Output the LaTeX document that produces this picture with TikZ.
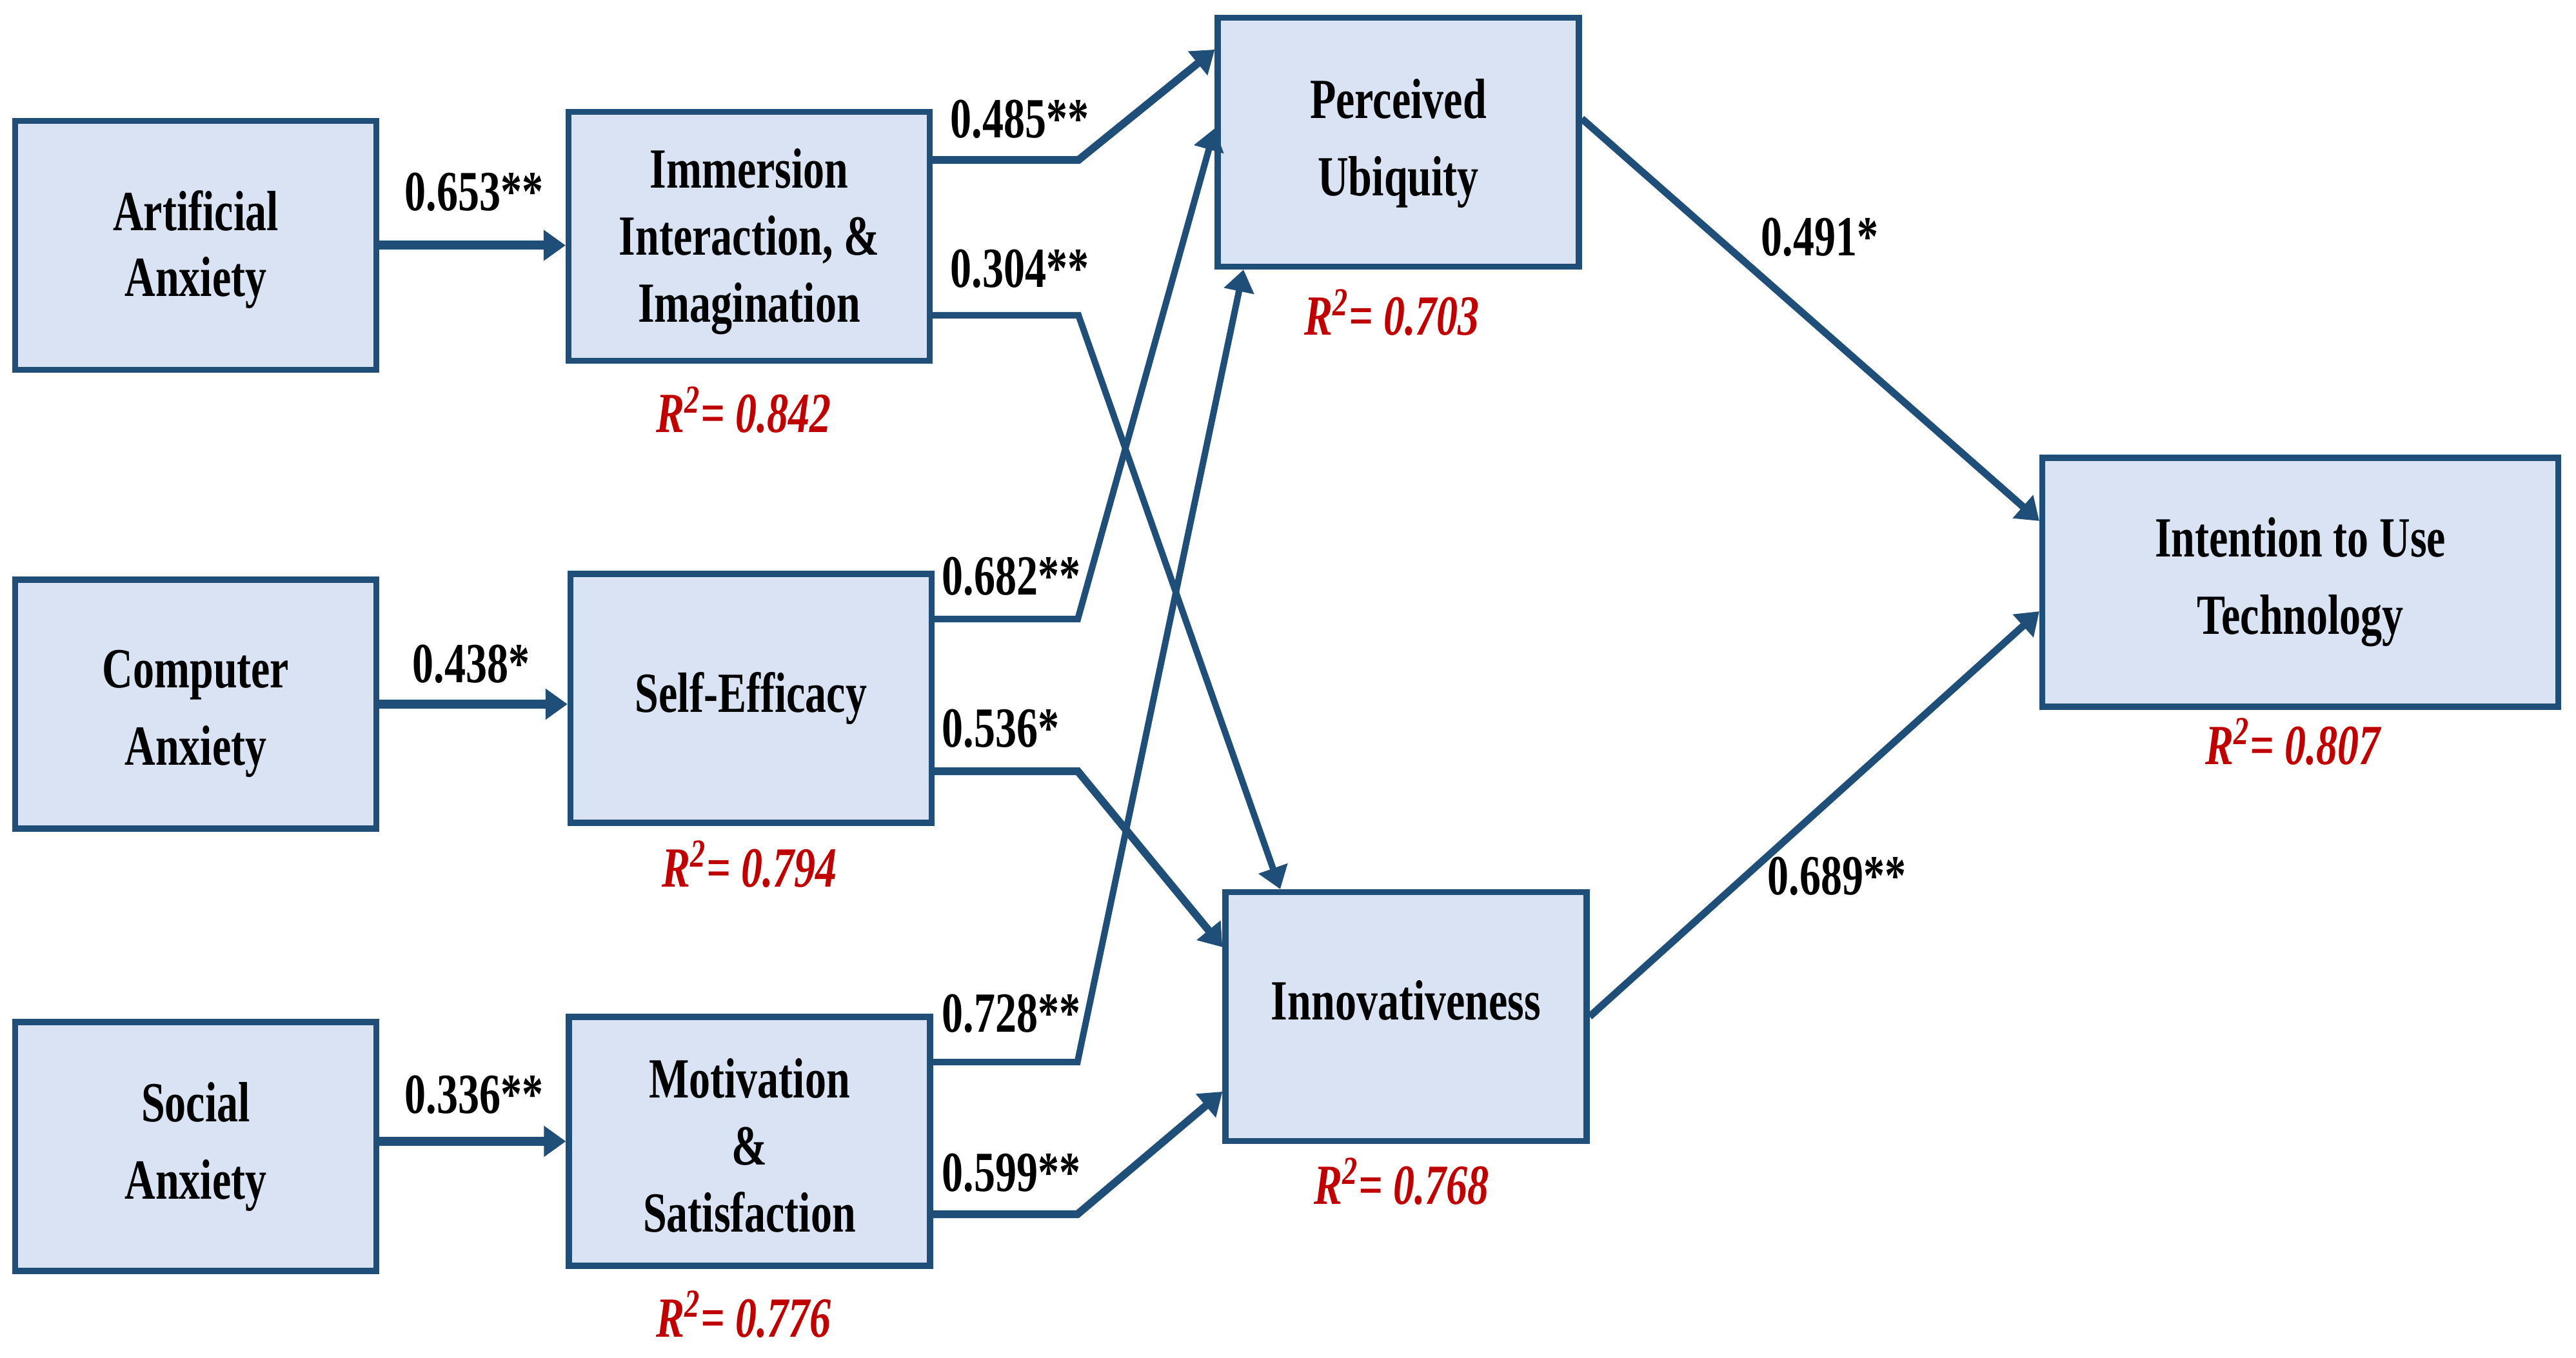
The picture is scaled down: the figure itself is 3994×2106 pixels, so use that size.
\documentclass[tikz,border=0pt]{standalone}
\usepackage{fontspec}
\setmainfont{Liberation Serif}[FakeStretch=0.75]
\usetikzlibrary{arrows.meta}
\definecolor{bordc}{HTML}{1F4E79}
\definecolor{fillc}{HTML}{DAE3F3}
\definecolor{rtwo}{HTML}{C00000}
\begin{document}
\begin{tikzpicture}[x=0.25pt,y=-0.25pt,
  box/.style={draw=bordc,fill=fillc,line width=2.3pt,minimum width=140pt,minimum height=96.5pt,inner sep=0pt,align=center,font=\fontsize{22pt}{26pt}\selectfont\bfseries},
  widebox/.style={minimum width=200pt},
  coef/.style={anchor=base west,inner sep=0pt,font=\fontsize{22pt}{26pt}\selectfont\bfseries},
  rsq/.style={anchor=base,inner sep=0pt,text=rtwo,font=\fontsize{22pt}{26pt}\selectfont\bfseries\itshape},
  conn/.style={draw=bordc,line width=2.8pt,-{Triangle[length=8.5pt,width=11.5pt]}},
  thickconn/.style={conn,line width=3.5pt},
  thinconn/.style={conn,line width=2.5pt}
]
\useasboundingbox (0,0) rectangle (3994,2106);

% boxes
\node[box] (aa) at (303.5,380.5) {\rule{0pt}{19pt}Artificial\\[-0.5pt]Anxiety};
\node[box] (ca) at (303.5,1092) {\rule{0pt}{22.2pt}Computer\\[4pt]Anxiety};
\node[box] (sa) at (303.5,1778) {Social\\[4pt]Anxiety};
\node[box] (im) at (1161.5,366.5) {\rule{0pt}{19.6pt}Immersion\\Interaction, \&\\Imagination};
\node[box] (se) at (1164.5,1083) {Self-Efficacy};
\node[box] (ms) at (1162,1770) {\rule{0pt}{18.6pt}Motivation\\\&\\Satisfaction};
\node[box] (pu) at (2168,220.5) {\rule{0pt}{16.5pt}Perceived\\[4pt]Ubiquity};
\node[box] (in) at (2180,1576.5) {\raisebox{13pt}{Innovativeness}};
\node[box,widebox] (it) at (3566.5,903) {Intention to Use\\[4pt]Technology};

% connectors
\draw[thickconn] (aa.east) -- (aa.east -| im.west);
\draw[thickconn] (ca.east) -- (ca.east -| se.west);
\draw[thickconn] (sa.east |- ms.west) -- (ms.west);

\draw[conn,line width=3pt] ([yshift=29.6pt]im.east) -- ++(226,0) -- ([yshift=35.9pt]pu.west);
\draw[thinconn] ([yshift=-30.6pt]im.east) -- ++(226,0) -- ([xshift=-48.75pt]in.north);
\draw[thinconn] ([yshift=30.75pt]se.east) -- ++(222,0) -- ([yshift=5.4pt]pu.west);
\draw[conn,line width=3pt] ([yshift=-28.25pt]se.east) -- ++(222,0) -- ([yshift=26.9pt]in.west);
\draw[thinconn] ([yshift=30.75pt]ms.east) -- ++(224,0) -- ([xshift=-60pt]pu.south);
\draw[conn,line width=3pt] ([yshift=-28.25pt]ms.east) -- ++(224,0) -- ([yshift=-29.1pt]in.west);
\draw[conn] ([yshift=9.1pt]pu.east) -- ([yshift=23.75pt]it.west);
\draw[conn] (in.east) -- ([yshift=-11.25pt]it.west);

% path coefficients
\node[coef] (l653) at (627,327) {0.653**};
\node[coef] (l438) at (639,1058) {0.438*};
\node[coef] (l336) at (627,1726) {0.336**};
\node[coef] (l485) at (1473,214) {0.485**};
\node[coef] (l304) at (1473,446) {0.304**};
\node[coef] (l682) at (1460,923) {0.682**};
\node[coef] (l536) at (1460,1158) {0.536*};
\node[coef] (l728) at (1460,1600) {0.728**};
\node[coef] (l599) at (1460,1847) {0.599**};
\node[coef] (l491) at (2730,397) {0.491*};
\node[coef] (l689) at (2740,1387) {0.689**};

% R squared
\node[rsq] (r842) at (1153,671) {R\textsuperscript{2}= 0.842};
\node[rsq] (r794) at (1162,1375) {R\textsuperscript{2}= 0.794};
\node[rsq] (r776) at (1153,2073) {R\textsuperscript{2}= 0.776};
\node[rsq] (r703) at (2158,520) {R\textsuperscript{2}= 0.703};
\node[rsq] (r768) at (2173,1867) {R\textsuperscript{2}= 0.768};
\node[rsq] (r807) at (3555,1185) {R\textsuperscript{2}= 0.807};
\end{tikzpicture}
\end{document}
